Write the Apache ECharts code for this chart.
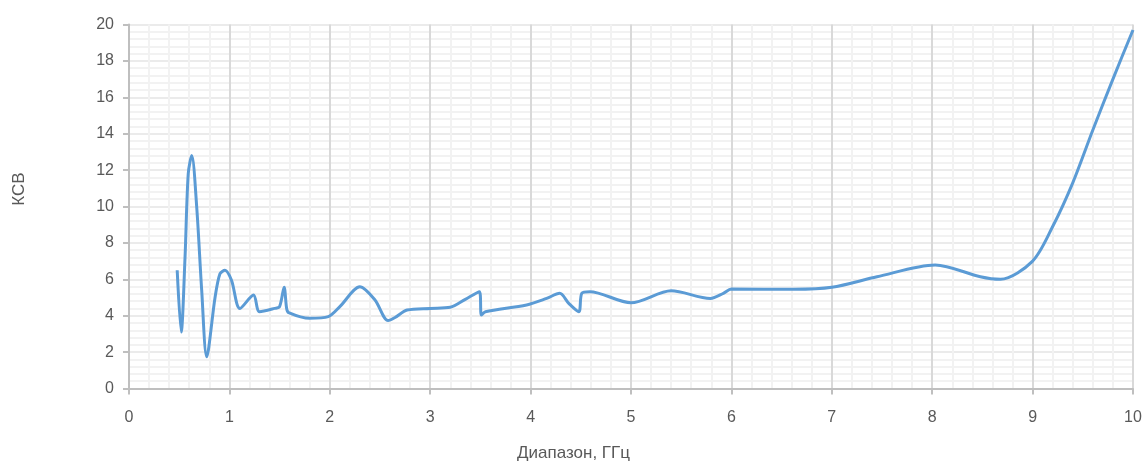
<!DOCTYPE html>
<html>
<head>
<meta charset="utf-8">
<script src="https://cdn.jsdelivr.net/npm/echarts@6/dist/echarts.min.js"></script>
<style>
  html, body { margin: 0; padding: 0; background: #ffffff; }
  #chart { width: 1147px; height: 465px; }
</style>
</head>
<body>
<div id="chart"></div>
<script>
// Frequency, GHz
const freq = [
  0.48, 0.52, 0.558, 0.59, 0.625, 0.674, 0.724, 0.774, 0.857, 0.906, 0.956,
  1.02, 1.105, 1.24, 1.30, 1.45, 1.50, 1.545, 1.57, 1.59, 1.80, 1.985,
  2.10, 2.30, 2.45, 2.58, 2.65, 2.77, 3.00, 3.20, 3.35, 3.49, 3.51, 3.55,
  3.96, 4.16, 4.29, 4.38, 4.48, 4.51, 4.59, 5.00, 5.40, 5.79, 5.92, 6.00,
  6.62, 7.00, 7.45, 8.03, 8.48, 8.68, 9.00, 9.20, 9.40, 9.60, 9.80, 10.00
];
// VSWR (КСВ) at each frequency
const vswr = [
  6.5, 3.1, 7.2, 11.8, 12.8, 10.0, 5.4, 1.75, 5.0, 6.3, 6.5,
  5.96, 4.4, 5.14, 4.22, 4.4, 4.5, 5.56, 4.4, 4.17, 3.86, 3.95,
  4.5, 5.59, 4.86, 3.73, 3.9, 4.31, 4.4, 4.46, 4.9, 5.32, 4.04, 4.22,
  4.59, 4.95, 5.23, 4.68, 4.22, 5.23, 5.32, 4.71, 5.37, 4.95, 5.23, 5.47,
  5.45, 5.56, 6.14, 6.79, 6.14, 6.0, 7.0, 8.9, 11.3, 14.2, 17.0, 19.7
];
const xTicks = ['0','1','2','3','4','5','6','7','8','9','10'];
const yTicks = ['0','2','4','6','8','10','12','14','16','18','20'];

const xTitle = 'Диапазон, ГГц';
const yTitle = 'КСВ';

const FONT = '"Liberation Sans", "DejaVu Sans", sans-serif';
const TXT = '#595959';

const chart = echarts.init(document.getElementById('chart'), null, { renderer: 'canvas' });
chart.setOption({
  animation: false,
  backgroundColor: '#ffffff',
  grid: { left: 129, right: 14, top: 24.5, bottom: 76.5, containLabel: false },
  xAxis: {
    type: 'value', min: 0, max: 10, interval: 1,
    axisLine: { show: true, lineStyle: { color: '#bfbfbf', width: 2 } },
    axisTick: { show: true, length: 6, lineStyle: { color: '#bfbfbf', width: 2 } },
    axisLabel: {
      color: TXT, fontFamily: FONT, fontSize: 16, margin: 21,
      formatter: v => xTicks[Math.round(v)] ?? ''
    },
    splitLine: { show: true, lineStyle: { color: '#d9d9d9', width: 2 } },
    minorTick: { show: false, splitNumber: 5 },
    minorSplitLine: { show: true, lineStyle: { color: '#f2f2f2', width: 2 } }
  },
  yAxis: {
    type: 'value', min: 0, max: 20, interval: 2,
    axisLine: { show: true, lineStyle: { color: '#bfbfbf', width: 2 } },
    axisTick: { show: true, length: 6, lineStyle: { color: '#bfbfbf', width: 2 } },
    axisLabel: {
      color: TXT, fontFamily: FONT, fontSize: 16, margin: 15,
      formatter: v => yTicks[Math.round(v / 2)] ?? ''
    },
    splitLine: { show: true, lineStyle: { color: '#ebebeb', width: 2 } },
    minorTick: { show: false, splitNumber: 5 },
    minorSplitLine: { show: true, lineStyle: { color: '#f2f2f2', width: 2 } }
  },
  graphic: [
    {
      type: 'text', left: 'center', top: 445,
      style: { text: xTitle, fill: TXT, font: '17px ' + FONT }
    },
    {
      type: 'text', x: 11, y: 189, rotation: Math.PI / 2,
      style: { text: yTitle, fill: TXT, font: '17px ' + FONT, align: 'center', verticalAlign: 'top' }
    }
  ],
  series: [{
    type: 'line',
    data: freq.map((f, i) => [f, vswr[i]]),
    smooth: 0.3,
    showSymbol: false,
    lineStyle: { color: '#5b9bd5', width: 3 },
    z: 5
  }]
});
</script>
</body>
</html>
